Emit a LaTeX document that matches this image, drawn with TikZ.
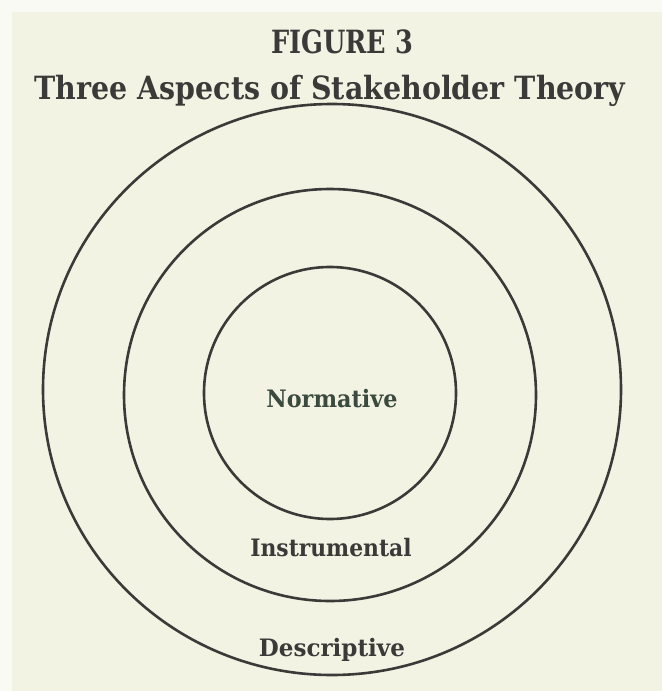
\documentclass[tikz,border=0pt]{standalone}
\usepackage{fontspec}
\setmainfont{DejaVu Serif}
\usetikzlibrary{shapes.geometric}
\definecolor{paper}{HTML}{F3F3E4}
\definecolor{paperedge}{HTML}{FAFAF4}
\definecolor{ink}{HTML}{3A3A38}
\definecolor{greenink}{HTML}{3A4A3E}
\tikzset{
  ring/.style={draw=ink, line width=2.6pt},
  titletext/.style={text=ink, inner sep=0pt, anchor=base, font=\bfseries\fontsize{32}{34}\selectfont},
  labeltext/.style={text=ink, inner sep=0pt, anchor=base, font=\bfseries\fontsize{24}{26}\selectfont},
}
\begin{document}
\begin{tikzpicture}[x=1pt,y=-1pt]
\useasboundingbox (0,0) rectangle (662,691);
\fill[paperedge] (0,0) rectangle (662,691);
\fill[paper] (12,12) rectangle (662,691);
\node[ring, ellipse, minimum width=578, minimum height=571, inner sep=0pt] (outer) at (332,389.5) {};
\node[ring, circle, minimum size=412, inner sep=0pt] (middle) at (330,395) {};
\node[ring, circle, minimum size=252, inner sep=0pt] (inner) at (330,393) {};
\node[titletext] (fig) at (342,53) {\scalebox{0.8}[1]{FIGURE 3}};
\node[titletext] (title) at (330,99) {\scalebox{0.89}[1]{Three Aspects of Stakeholder Theory}};
\node[labeltext, text=greenink] (norm) at (332,407) {\scalebox{0.93}[1]{Normative}};
\node[labeltext] (instr) at (331,556) {\scalebox{0.91}[1]{Instrumental}};
\node[labeltext] (desc) at (332,656) {\scalebox{0.96}[1]{Descriptive}};
\end{tikzpicture}
\end{document}
